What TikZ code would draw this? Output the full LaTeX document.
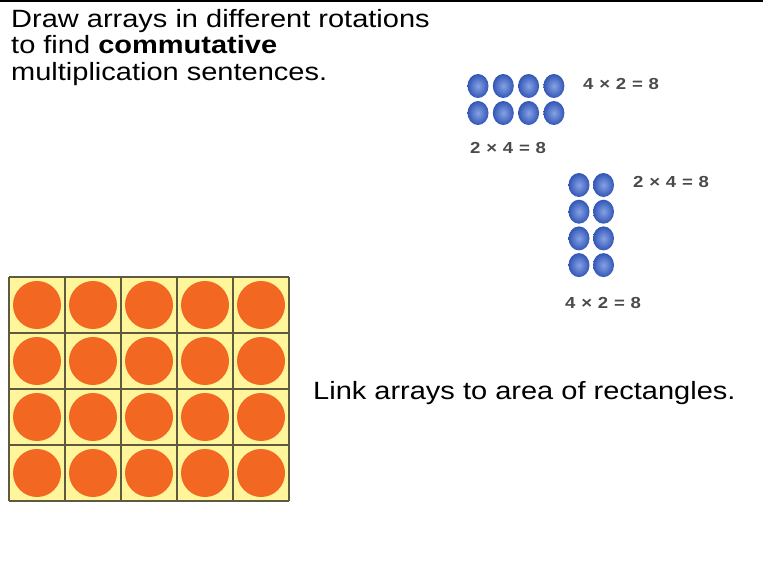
\documentclass[tikz,border=0pt]{standalone}
\usepackage{fontspec}
\setmainfont{Liberation Sans}
\usetikzlibrary{shapes.geometric}
\definecolor{gridfill}{HTML}{FFF59A}
\definecolor{gridline}{HTML}{5E5A40}
\definecolor{ballcol}{HTML}{F26722}
\definecolor{dotin}{HTML}{86A2E4}
\definecolor{dotout}{HTML}{3256B6}
\definecolor{labelgray}{HTML}{4A4A4A}
\tikzset{
  bigtxt/.style={font=\fontsize{25}{30}\selectfont, inner sep=0pt, anchor=base west},
  eqlbl/.style={font=\fontsize{16}{16}\selectfont\bfseries, text=labelgray, inner sep=0pt, anchor=base west},
  bluedot/.style={inner color=dotin, outer color=dotout},
}
\newcommand{\eqtxt}[3]{\scalebox{1.16}[1]{#1\hspace{5pt}×\hspace{5pt}#2\hspace{5pt}=\hspace{5pt}#3}}
\begin{document}
\begin{tikzpicture}[x=1pt,y=-1pt]
\useasboundingbox (0,0) rectangle (763,573);
% top rule
\draw[line width=1.3pt] (0,1) -- (763,1);
% texts
\node[bigtxt] (t1) at (11,27) {\scalebox{1.16}[1]{Draw arrays in different rotations}};
\node[bigtxt] (t2) at (11,53.5) {\scalebox{1.16}[1]{to find \textbf{commutative}}};
\node[bigtxt] (t3) at (11,80) {\scalebox{1.16}[1]{multiplication sentences.}};
\node[bigtxt] (link) at (313,399) {\scalebox{1.16}[1]{Link arrays to area of rectangles.}};
% top array 4 x 2
\foreach \c in {0,...,3} \foreach \r in {0,1} {
  \shade[bluedot] ({478+25.3*\c},{86+27*\r}) ellipse [x radius=10.5pt, y radius=12pt];
}
\node[eqlbl] (e1) at (583,89) {\eqtxt{4}{2}{8}};
\node[eqlbl] (e2) at (470,153) {\eqtxt{2}{4}{8}};
% second array 2 x 4
\foreach \c in {0,1} \foreach \r in {0,...,3} {
  \shade[bluedot] ({579+24.5*\c},{185+26.7*\r}) ellipse [x radius=10.5pt, y radius=12pt];
}
\node[eqlbl] (e3) at (633,187) {\eqtxt{2}{4}{8}};
\node[eqlbl] (e4) at (565,308) {\eqtxt{4}{2}{8}};
% grid of circles
\fill[gridfill] (9,277) rectangle (289,501);
\foreach \c in {0,...,4} \foreach \r in {0,...,3} {
  \fill[ballcol] ({37+56*\c},{305+56*\r}) circle[radius=24pt];
}
\foreach \c in {0,...,5} \draw[gridline, line width=1.4pt] ({9+56*\c},277) -- ({9+56*\c},501);
\foreach \r in {0,...,4} \draw[gridline, line width=1.4pt] (9,{277+56*\r}) -- (289,{277+56*\r});
\end{tikzpicture}
\end{document}
